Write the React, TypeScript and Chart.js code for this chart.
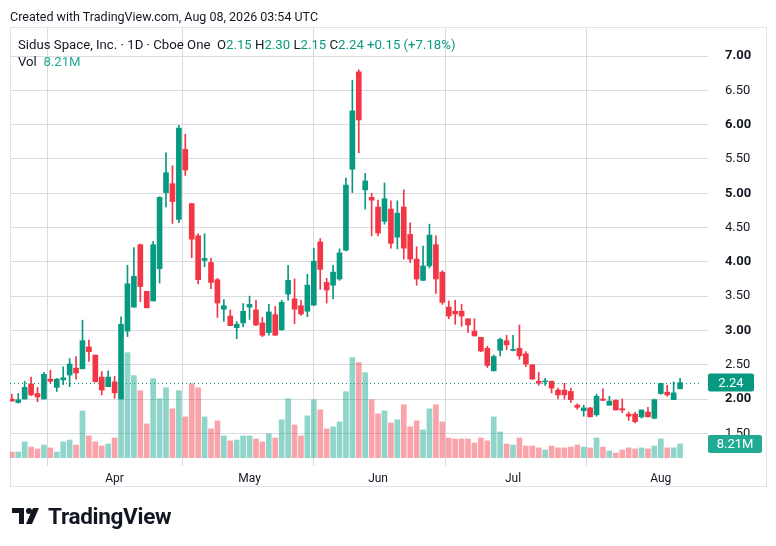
import React, { useEffect, useRef } from "react";
import { Chart, registerables } from "chart.js";
Chart.register(...registerables);

const opens = [2.0,1.95,2.0,2.22,2.08,2.0,2.29,2.17,2.28,2.35,2.45,2.44,2.76,2.64,2.32,2.18,2.25,2.0,2.99,3.34,4.25,3.57,3.43,3.9,5.01,5.14,4.62,5.64,4.85,4.38,4.02,3.99,3.74,3.31,3.21,3.04,3.11,3.34,3.3,3.11,2.97,3.23,3.01,3.53,3.46,3.36,3.28,3.37,4.29,3.7,3.66,3.75,4.17,5.35,6.77,5.05,4.94,4.8,4.59,4.77,4.36,4.8,4.4,4.04,3.73,3.94,4.25,3.85,3.34,3.28,3.28,3.17,2.99,2.9,2.74,2.41,2.71,2.85,2.71,2.74,2.66,2.5,2.26,2.25,2.26,2.13,2.13,2.11,1.91,1.83,1.87,1.77,2.0,1.91,1.98,1.86,1.78,1.78,1.74,1.81,1.72,2.08,2.1,1.99,2.15];
const highs = [2.07,2.08,2.26,2.32,2.17,2.39,2.42,2.3,2.47,2.59,2.62,3.15,2.86,2.64,2.4,2.41,2.33,3.2,3.95,4.21,4.26,3.57,4.3,4.95,5.59,5.4,5.99,5.86,4.85,4.41,4.41,4.05,3.76,3.45,3.3,3.13,3.39,3.5,3.44,3.19,3.38,3.35,3.44,3.95,3.75,3.44,3.82,4.2,4.34,3.76,3.95,4.19,5.22,6.65,6.8,5.29,5.0,4.9,5.15,4.89,4.89,5.05,4.57,4.22,4.23,4.55,4.38,3.87,3.43,3.44,3.38,3.17,3.17,2.9,2.77,2.64,2.89,2.93,2.93,3.08,2.69,2.5,2.39,2.3,2.26,2.16,2.23,2.16,1.93,1.91,1.88,2.07,2.15,2.04,1.99,2.0,1.81,1.81,1.84,1.88,2.0,2.23,2.2,2.25,2.3];
const lows = [1.97,1.94,2.0,2.05,1.96,2.0,2.23,2.11,2.21,2.18,2.29,2.44,2.55,2.25,2.06,2.18,2.01,2.0,2.91,3.34,3.42,3.33,3.43,3.69,4.8,4.56,4.57,5.26,4.06,3.68,3.93,3.61,3.19,3.13,3.07,2.88,3.05,3.16,3.07,2.91,2.93,2.93,3.0,3.44,3.1,3.22,3.2,3.36,3.6,3.4,3.46,3.73,4.16,5.01,5.59,4.77,4.38,4.38,4.55,4.2,4.19,4.04,3.99,3.66,3.73,3.91,3.54,3.38,3.17,3.09,3.06,2.97,2.92,2.69,2.46,2.41,2.63,2.72,2.7,2.58,2.47,2.29,2.2,2.2,2.09,2.0,2.0,1.95,1.85,1.75,1.74,1.75,1.98,1.91,1.84,1.8,1.69,1.65,1.72,1.74,1.71,2.07,2.04,1.99,2.15];
const closes = [1.97,1.99,2.17,2.06,2.03,2.36,2.26,2.29,2.31,2.51,2.38,2.85,2.69,2.25,2.13,2.32,2.09,3.09,3.68,3.79,3.64,3.33,4.25,4.94,5.3,4.88,5.95,5.34,4.33,3.74,4.05,3.7,3.4,3.36,3.07,3.09,3.28,3.38,3.08,2.93,3.27,2.93,3.41,3.73,3.31,3.24,3.66,4.01,3.89,3.59,3.85,4.13,5.12,6.2,6.07,5.18,4.9,4.42,4.92,4.27,4.71,4.2,4.04,3.75,3.94,4.39,3.75,3.41,3.21,3.24,3.21,3.08,2.92,2.7,2.49,2.62,2.87,2.79,2.72,2.63,2.51,2.29,2.23,2.26,2.16,2.06,2.06,1.99,1.88,1.87,1.74,2.04,1.98,1.97,1.84,1.84,1.75,1.67,1.84,1.74,1.99,2.23,2.06,2.09,2.24];
const volumes = [3.5,3.5,9.4,6.4,5.3,7.6,5.9,3.5,9.4,10.5,7.6,27.5,12.9,9.4,7.0,8.2,11.7,39.8,61.5,48.1,39.3,19.9,46.3,34.6,41.0,28.7,39.3,24.0,43.4,41.0,24.0,17.0,21.7,12.9,10.0,10.5,12.9,12.9,11.1,9.4,14.1,11.7,22.3,34.6,19.3,12.9,24.6,34.0,28.1,17.0,18.2,21.1,38.7,58.6,55.7,49.8,34.0,25.8,27.5,20.5,22.3,31.1,18.2,21.7,16.4,28.7,31.1,21.1,11.7,11.1,11.1,11.1,8.8,11.7,10.0,24.0,15.2,8.2,7.6,11.7,7.0,7.0,5.9,4.7,7.0,5.9,5.9,6.4,7.6,6.4,5.9,11.7,6.4,4.1,2.9,4.7,5.9,5.3,5.9,5.3,7.0,11.1,5.9,5.9,8.21];
const monthTicks = [16, 37, 57, 78, 101];
const monthLabels = ["Apr", "May", "Jun", "Jul", "Aug"];
const priceTicks = [1.5,2,2.5,3,3.5,4,4.5,5,5.5,6,6.5,7];

const GREEN = "#089981";
const RED = "#F23645";
const FONT = "Roboto, 'Noto Sans', sans-serif";

export default function App() {
  const ref = useRef<HTMLCanvasElement>(null);
  useEffect(() => {
    const idx = closes.map((_, i) => i);
    const up = idx.map((i) => closes[i] >= opens[i]);
    const grid = { color: "#d9dbe1", borderDash: [2, 4] };
    const lastPlugin = {
      id: "last",
      afterDraw(c: any) {
        const ctx = c.ctx, y = c.scales.y, a = c.chartArea;
        const py = y.getPixelForValue(closes[closes.length - 1]);
        ctx.save();
        ctx.strokeStyle = GREEN; ctx.setLineDash([1, 3]); ctx.lineWidth = 1;
        ctx.beginPath(); ctx.moveTo(a.left, Math.round(py) + 0.5); ctx.lineTo(a.right, Math.round(py) + 0.5); ctx.stroke();
        ctx.setLineDash([]);
        const box = (yy: number, txt: string, col: string, w: number) => {
          ctx.fillStyle = col;
          ctx.beginPath(); (ctx as any).roundRect(a.right + 8, yy - 9, w, 18, 2); ctx.fill();
          ctx.fillStyle = "#fff"; ctx.font = `13px ${FONT}`; ctx.textBaseline = "middle"; ctx.textAlign = "center";
          ctx.fillText(txt, a.right + 8 + w / 2, yy + 1);
        };
        box(py, "2.24", GREEN, 46);
        const vy = c.scales.v.getPixelForValue(volumes[volumes.length - 1]);
        box(vy, "8.21M", "#22ab94", 54);
        ctx.restore();
      },
    };
    const chart = new Chart(ref.current!, {
      type: "bar",
      data: {
        datasets: [
          {
            label: "bodies", order: 1, grouped: false, yAxisID: "y",
            data: idx.map((i) => ({ x: i, y: [opens[i], closes[i]] })) as any,
            backgroundColor: idx.map((i) => (up[i] ? GREEN : RED)),
            barThickness: 5, minBarLength: 1,
          },
          {
            label: "wicks", order: 2, grouped: false, yAxisID: "y",
            data: idx.map((i) => ({ x: i, y: [lows[i], highs[i]] })) as any,
            backgroundColor: idx.map((i) => (up[i] ? GREEN : RED)),
            barThickness: 1,
          },
          {
            label: "vol", order: 3, grouped: false, yAxisID: "v",
            data: idx.map((i) => ({ x: i, y: volumes[i] })) as any,
            backgroundColor: idx.map((i) => (up[i] ? "rgba(34,171,148,0.5)" : "rgba(242,54,69,0.45)")),
            barThickness: 5,
          },
        ],
      },
      options: {
        animation: false, responsive: false,
        layout: { padding: { left: 10, top: 28, right: 0, bottom: 61 } },
        plugins: { legend: { display: false }, tooltip: { enabled: false } },
        scales: {
          x: {
            type: "linear", min: -0.28, max: 107.1, offset: false,
            grid: grid as any, border: { display: false },
            afterBuildTicks: (s: any) => { s.ticks = monthTicks.map((v) => ({ value: v })); },
            afterFit: (s: any) => { s.height = 27; },
            ticks: {
              callback: (v: any) => monthLabels[monthTicks.indexOf(Number(v))] ?? "",
              color: "#131722", font: { family: FONT, size: 12 }, maxRotation: 0, padding: 6,
            },
          },
          y: {
            position: "right", min: 1.14, max: 7.41,
            grid: grid as any, border: { display: false },
            afterBuildTicks: (s: any) => { s.ticks = priceTicks.map((v) => ({ value: v })); },
            afterFit: (s: any) => { s.width = 76; },
            ticks: {
              callback: (v: any) => Number(v).toFixed(2),
              color: "#131722", padding: 17,
              font: (c: any) => ({ family: FONT, size: 13, weight: c.tick && Number.isInteger(c.tick.value) ? "bold" : "normal" }),
            },
          },
          v: { display: false, min: 0, max: 251 },
        },
      },
      plugins: [lastPlugin],
    });
    return () => chart.destroy();
  }, []);

  const g = { color: GREEN };
  return (
    <div style={{ position: "fixed", left: 0, top: 0, width: 776, height: 546, background: "#fff", fontFamily: FONT, color: "#131722" }}>
      <div style={{ position: "absolute", left: 10, top: 27, width: 755, height: 458, border: "1px solid #e0e3eb" }} />
      <canvas ref={ref} width={776} height={546} style={{ position: "absolute", left: 0, top: 0 }} />
      <div style={{ position: "absolute", left: 10, top: 9, fontSize: 12.5 }}>Created with TradingView.com, Aug 08, 2026 03:54 UTC</div>
      <div style={{ position: "absolute", left: 18, top: 37, fontSize: 13.2 }}>
        Sidus Space, Inc. · 1D · Cboe One&nbsp; O<span style={g}>2.15</span> H<span style={g}>2.30</span> L<span style={g}>2.15</span> C<span style={g}>2.24</span> <span style={g}>+0.15 (+7.18%)</span>
      </div>
      <div style={{ position: "absolute", left: 18, top: 54, fontSize: 13.2 }}>Vol&nbsp; <span style={{ color: "#22ab94" }}>8.21M</span></div>
      <div style={{ position: "absolute", left: 12, top: 503, display: "flex", alignItems: "center", gap: 6 }}>
        <svg width="30" height="20" viewBox="0 0 30 20">
          <path d="M0 2h12v16H7V7H0z" fill="#131722" />
          <circle cx="17" cy="5" r="3" fill="#131722" />
          <path d="M21 2h6l-7 16h-6z" fill="#131722" />
        </svg>
        <span style={{ fontSize: 22.5, fontWeight: 700, letterSpacing: -0.3 }}>TradingView</span>
      </div>
    </div>
  );
}
